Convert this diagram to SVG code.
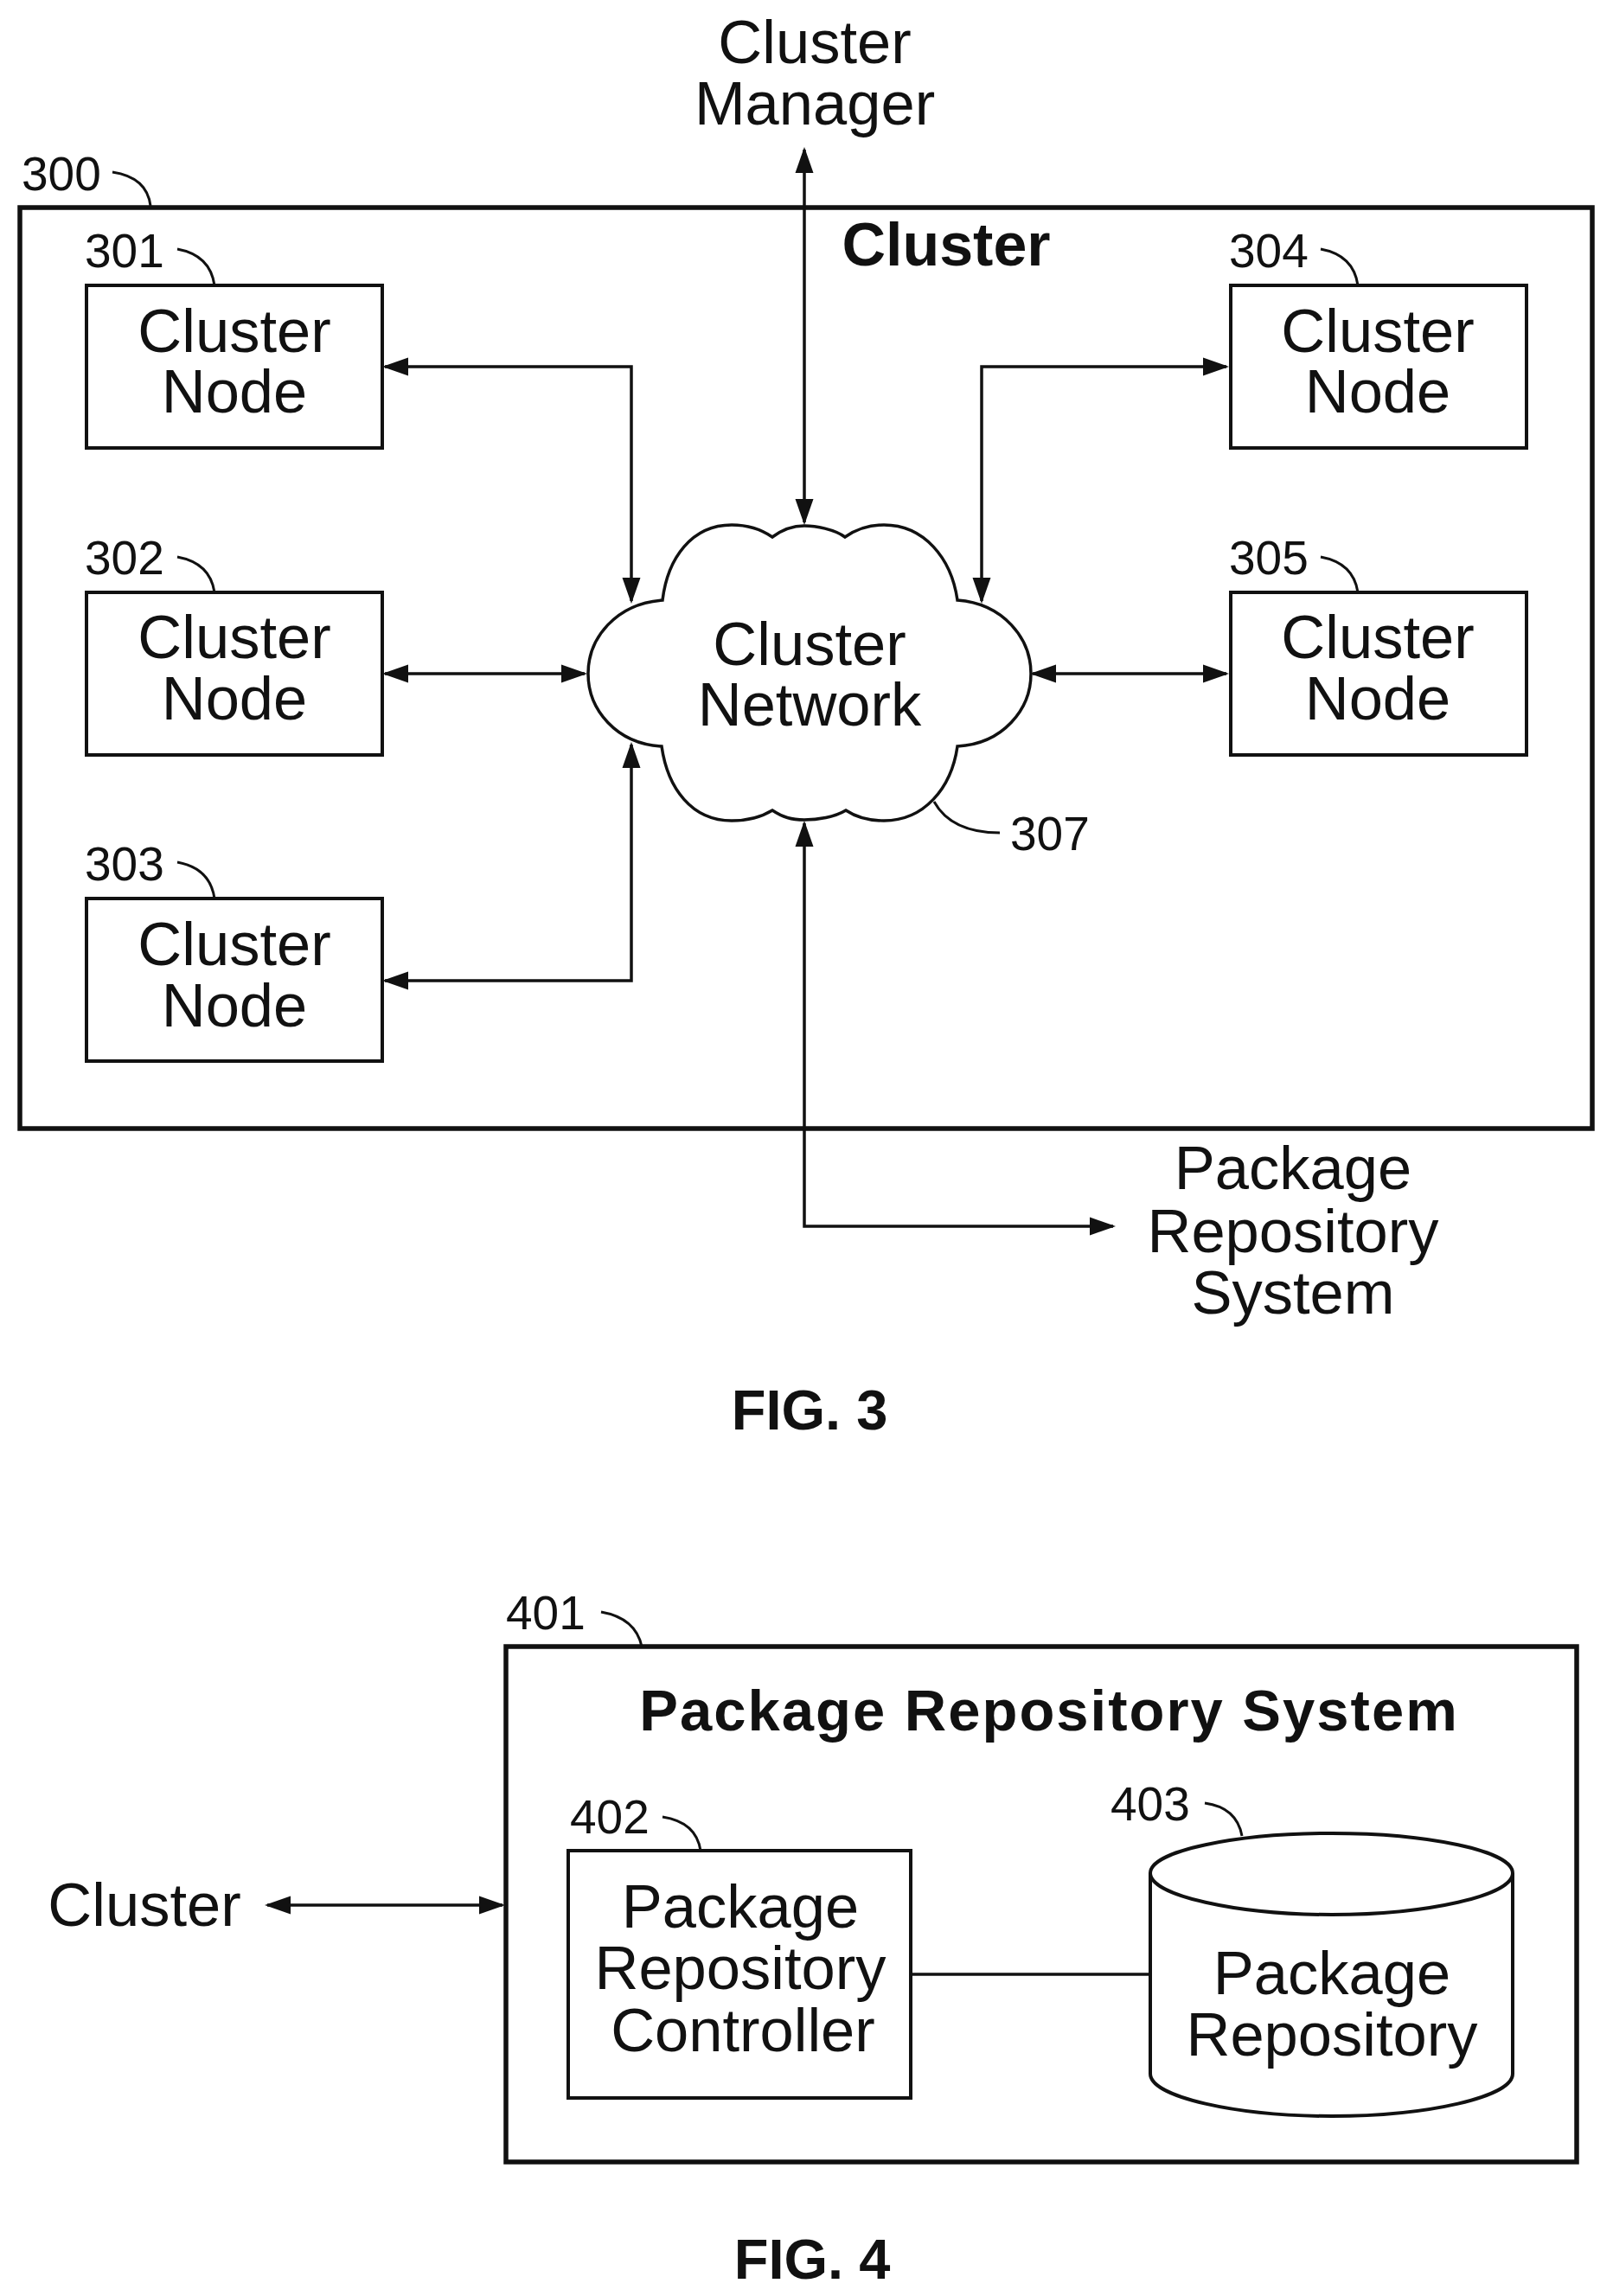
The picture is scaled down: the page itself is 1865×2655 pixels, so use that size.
<svg xmlns="http://www.w3.org/2000/svg" width="1865" height="2655" viewBox="0 0 1865 2655">
<style>
text{font-family:"Liberation Sans",Arial,sans-serif;fill:#111}
.t{font-size:70.5px;text-anchor:middle}
.b{font-size:70px;font-weight:700;text-anchor:middle}
.f{font-size:65px;font-weight:700;text-anchor:middle}
.r{font-size:55px}
.box{fill:#fff;stroke:#111;stroke-width:4}
.outer{fill:#fff;stroke:#111;stroke-width:5.5}
.ln{fill:none;stroke:#111;stroke-width:3.5}
.ld{fill:none;stroke:#111;stroke-width:3}
.arr{marker-start:url(#h);marker-end:url(#h)}
</style>
<defs>
<marker id="h" markerUnits="userSpaceOnUse" markerWidth="32" markerHeight="23" refX="27" refY="11" orient="auto-start-reverse" viewBox="0 0 32 23"><path d="M0,0.5 L30,11 L0,21.5 z" fill="#111"/></marker>
</defs>
<rect width="1865" height="2655" fill="#fff"/>
<g id="cluster"><rect class="outer" x="23" y="240" width="1818" height="1065"/>
<text class="b" x="1094" y="307">Cluster</text>
<text class="r" x="25" y="220">300</text><path class="ld" d="M130,199 Q170,205 174,238"/></g>
<g id="connectors">
<path class="ln arr" d="M930,173 V604"/>
<path class="ln arr" d="M445,424 H730 V695"/>
<path class="ln arr" d="M445,779 H676"/>
<path class="ln arr" d="M445,1134 H730 V861"/>
<path class="ln arr" d="M1418,424 H1135 V695"/>
<path class="ln arr" d="M1194,779 H1418"/>
<path class="ln arr" d="M930,952 V1418 H1287"/>
<path class="ln arr" d="M309,2203 H581"/>
</g>
<g id="manager"><text class="t" x="942" y="73">Cluster</text><text class="t" x="942" y="144">Manager</text></g>
<g id="node301"><rect class="box" x="100" y="330" width="342" height="188"/><text class="t" x="271" y="407">Cluster</text><text class="t" x="271" y="477">Node</text><text class="r" x="98" y="309">301</text><path class="ld" d="M205,288 Q243,295 248,330"/></g>
<g id="node302"><rect class="box" x="100" y="685" width="342" height="188"/><text class="t" x="271" y="761">Cluster</text><text class="t" x="271" y="832">Node</text><text class="r" x="98" y="664">302</text><path class="ld" d="M205,644 Q243,651 248,685"/></g>
<g id="node303"><rect class="box" x="100" y="1039" width="342" height="188"/><text class="t" x="271" y="1116">Cluster</text><text class="t" x="271" y="1187">Node</text><text class="r" x="98" y="1018">303</text><path class="ld" d="M205,997 Q243,1004 248,1039"/></g>
<g id="node304"><rect class="box" x="1423" y="330" width="342" height="188"/><text class="t" x="1593" y="407">Cluster</text><text class="t" x="1593" y="477">Node</text><text class="r" x="1421" y="309">304</text><path class="ld" d="M1527,288 Q1565,295 1570,330"/></g>
<g id="node305"><rect class="box" x="1423" y="685" width="342" height="188"/><text class="t" x="1593" y="761">Cluster</text><text class="t" x="1593" y="832">Node</text><text class="r" x="1421" y="664">305</text><path class="ld" d="M1527,644 Q1565,651 1570,685"/></g>
<g id="network">
<path fill="#fff" stroke="#111" stroke-width="3.5" stroke-linejoin="miter" d="M766,694 C772,645 800,607 846,607 C864,607 880,612 893,621 C905,612 917,608 930,608 C943,608 965,612 977,621 C990,612 1005,607 1022,607 C1068,607 1100,645 1107,694 C1160,698 1192,738 1192,779 C1192,820 1160,860 1107,863 C1100,912 1068,949 1022,949 C1005,949 990,945 978,937 C965,945 945,948 930,948 C915,948 905,945 893,937 C880,945 864,949 846,949 C800,949 772,912 765,863 C712,860 680,820 680,779 C680,738 712,698 766,694 Z"/>
<text class="t" x="936" y="769">Cluster</text><text class="t" x="936" y="839">Network</text>
<text class="r" x="1168" y="983">307</text><path class="ld" d="M1080,927 Q1100,963 1156,963"/></g>
<g id="pkgsys"><text class="t" x="1495" y="1375">Package</text><text class="t" x="1495" y="1448">Repository</text><text class="t" x="1495" y="1519">System</text></g>
<text class="f" x="936" y="1653">FIG. 3</text>
<g id="cluster4"><text class="t" x="167" y="2227">Cluster</text></g>
<g id="repo-system"><rect class="outer" x="585" y="1904" width="1238" height="596" fill-opacity="0"/>
<text class="b" x="1213" y="2001" style="font-size:67px;letter-spacing:2px">Package Repository System</text>
<text class="r" x="585" y="1884">401</text><path class="ld" d="M695,1864 Q735,1871 742,1904"/></g>
<g id="connector402403"><path class="ln" d="M1054,2283 H1331"/></g>
<g id="controller"><rect class="box" x="657" y="2140" width="396" height="286"/><text class="t" x="856" y="2229">Package</text><text class="t" x="856" y="2300">Repository</text><text class="t" x="859" y="2372">Controller</text><text class="r" x="659" y="2120">402</text><path class="ld" d="M766,2101 Q805,2107 810,2140"/></g>
<g id="repository"><path fill="#fff" stroke="#111" stroke-width="4" d="M1330,2166 C1330,2140 1430,2120 1540,2120 C1650,2120 1749,2140 1749,2166 V2398 C1749,2425 1650,2447 1540,2447 C1430,2447 1330,2425 1330,2398 Z"/><path fill="none" stroke="#111" stroke-width="4" d="M1330,2166 C1330,2192 1430,2214 1540,2214 C1650,2214 1749,2192 1749,2166"/><text class="t" x="1540" y="2306">Package</text><text class="t" x="1540" y="2377">Repository</text><text class="r" x="1284" y="2105">403</text><path class="ld" d="M1393,2085 Q1430,2090 1436,2123"/></g>
<text class="f" x="939" y="2635">FIG. 4</text>
</svg>
